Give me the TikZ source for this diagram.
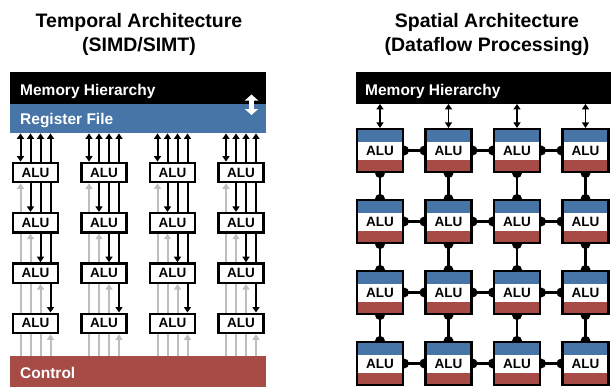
\documentclass[tikz,border=0pt]{standalone}
\usepackage{fontspec}
\setmainfont{Liberation Sans}
\usetikzlibrary{arrows.meta,calc}
\definecolor{rfblue}{RGB}{71,117,168}
\definecolor{ctlred}{RGB}{166,75,70}
\definecolor{lgray}{RGB}{190,190,190}
\pgfdeclarelayer{bg}
\pgfsetlayers{bg,main}
\begin{document}
\begin{tikzpicture}[x=1pt,y=-1pt,
  bar/.style={draw=none, minimum height=31.5pt, inner sep=0, anchor=north west},
  bartext/.style={text=white, font=\bfseries\fontsize{15.5}{18}\selectfont, inner sep=0, anchor=base west},
  titletext/.style={font=\bfseries\fontsize{19.5}{24}\selectfont, inner sep=0, anchor=base},
  aluL/.style={draw, line width=2.3pt, fill=white, minimum width=45pt, minimum height=19.5pt, inner sep=0, font=\bfseries\fontsize{13.5}{16}\selectfont},
  aluG/.style={draw, line width=2.1pt, fill=white, minimum width=46pt, minimum height=43pt, inner sep=0, font=\bfseries\fontsize{13.5}{16}\selectfont,
    path picture={
      \fill[rfblue] (path picture bounding box.north west) rectangle ([yshift=-13pt]path picture bounding box.north east);
      \fill[ctlred] (path picture bounding box.south west) rectangle ([yshift=12pt]path picture bounding box.south east);}},
  blk/.style={draw=black, line width=2pt},
  gry/.style={draw=lgray, line width=2pt},
  upar/.style={{Triangle[width=7pt,length=5.5pt]}-},
  dnar/.style={-{Triangle[width=7pt,length=5.5pt]}},
  dblar/.style={{Triangle[width=7pt,length=5.5pt]}-{Triangle[width=7pt,length=5.5pt]}},
  gconn/.style={draw=black, line width=2.4pt},
  bump/.style={fill=black}
]
\useasboundingbox (0,0) rectangle (611,386);

% titles
\node[titletext] (t1a) at (139,27.3) {Temporal Architecture};
\node[titletext] (t1b) at (139,51.3) {(SIMD/SIMT)};
\node[titletext] (t2a) at (487,27.3) {Spatial Architecture};
\node[titletext] (t2b) at (487,51.3) {(Dataflow Processing)};

% ---------------- left: temporal ----------------
\node[bar, fill=black, minimum width=256pt] (memL) at (10,72) {};
\node[bar, fill=rfblue, minimum width=256pt, minimum height=29.5pt] (rfL) at (10,103.5) {};
\node[bar, fill=ctlred, minimum width=256pt, minimum height=31pt] (ctlL) at (10,356) {};
\node[bartext] (memLt) at (20,95.5) {Memory Hierarchy};
\node[bartext] (rfLt) at (20,124.5) {Register File};
\node[bartext] (ctlLt) at (20,378) {Control};
\coordinate (wa1) at (251.5,94.5);
\coordinate (wa2) at (251.5,115);
\draw[white, line width=4.2pt, {Triangle[width=13pt,length=6pt]}-{Triangle[width=13pt,length=6pt]}] (wa1) -- (wa2);

\foreach \r in {1,2,3,4}{
  \foreach \c in {1,2,3,4}{
    \node[aluL] (aL\r\c) at (35.5+68.5*\c-68.5, 172.5+50.3*\r-50.3) {ALU};
  }
}

\foreach \c in {1,2,3,4}{
  \foreach \k in {1,2,3,4}{
    \pgfmathsetmacro\dx{-25+10*\k}
    \ifnum\k=1
      \draw[blk,dblar] ($(aL1\c.north |- rfL.south)+(\dx,0)$) -- ($(aL1\c.north)+(\dx,0)$);
    \else
      \draw[blk,upar] ($(aL1\c.north |- rfL.south)+(\dx,0)$) -- ($(aL1\c.north)+(\dx,0)$);
    \fi
    \foreach \r in {1,2,3,4}{
      \pgfmathtruncatemacro\n{\r+1}
      \ifnum\k<\r \tikzset{cur/.style={gry}}\fi
      \ifnum\k=\r \tikzset{cur/.style={gry,upar}}\fi
      \ifnum\k=\n \tikzset{cur/.style={blk,dnar}}\fi
      \ifnum\k>\n \tikzset{cur/.style={blk}}\fi
      \ifnum\r<4
        \draw[cur] ($(aL\r\c.south)+(\dx,0)$) -- ($(aL\n\c.north)+(\dx,0)$);
      \else
        \draw[cur] ($(aL\r\c.south)+(\dx,0)$) -- ($(aL\r\c.south |- ctlL.north)+(\dx,0)$);
      \fi
    }
  }
}

% ---------------- right: spatial ----------------
\node[bar, fill=black, minimum width=255pt] (memR) at (356,72) {};
\node[bartext] (memRt) at (365,95.5) {Memory Hierarchy};

\foreach \r in {1,2,3,4}{
  \foreach \c in {1,2,3,4}{
    \node[aluG] (gR\r\c) at (380+68.5*\c-68.5, 150.5+71*\r-71) {ALU};
  }
}
\foreach \c in {1,2,3,4}{
  \draw[blk, line width=1.7pt, dblar] (gR1\c.north |- memR.south) -- (gR1\c.north);
}
\begin{pgfonlayer}{bg}
\foreach \r in {1,2,3,4}{
  \foreach \c [evaluate=\c as \n using int(\c+1)] in {1,2,3}{
    \draw[gconn] (gR\r\c.east) -- (gR\r\n.west);
    \fill[bump] (gR\r\c.east) circle[radius=5pt];
    \fill[bump] (gR\r\n.west) circle[radius=5pt];
  }
}
\foreach \r [evaluate=\r as \n using int(\r+1)] in {1,2,3}{
  \foreach \c in {1,2,3,4}{
    \draw[gconn] (gR\r\c.south) -- (gR\n\c.north);
    \fill[bump] (gR\r\c.south) circle[radius=5pt];
    \fill[bump] (gR\n\c.north) circle[radius=5pt];
  }
}
\end{pgfonlayer}
\end{tikzpicture}
\end{document}
